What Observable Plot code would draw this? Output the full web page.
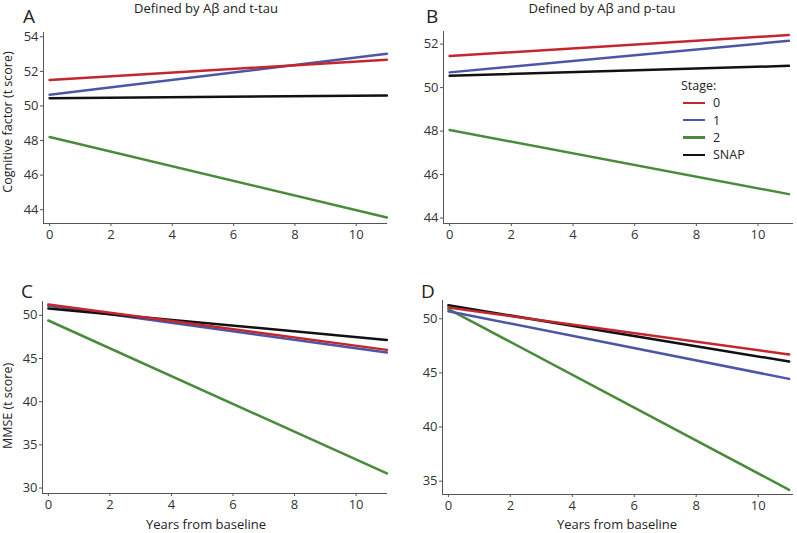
<!DOCTYPE html>
<html>
<head>
<meta charset="utf-8">
<script src="https://cdn.jsdelivr.net/npm/d3@7"></script>
<script src="https://cdn.jsdelivr.net/npm/@observablehq/plot@0.6"></script>
<style>
  html, body { margin: 0; padding: 0; background: #fff; }
  #fig { position: relative; width: 797px; height: 533px; font-family: "Open Sans", sans-serif; color: #222; overflow: hidden; }
  .pnl { position: absolute; }
  .txt { position: absolute; white-space: nowrap; line-height: 1; }
  .title { font-size: 13px; transform: translate(-50%, -50%); }
  .letter { font-size: 19px; transform: translate(0, -50%); }
  .ylab { font-size: 12.5px; transform: translate(-50%, -50%) rotate(-90deg); }
  .xlab { font-size: 13px; transform: translate(-50%, -50%); }
  .leg { position: absolute; left: 681px; top: 77px; font-size: 12.5px; }
  .leg .row { display: flex; align-items: center; height: 17.3px; }
  .leg .sw { width: 22px; height: 2.5px; margin-left: 2px; margin-right: 8px; }
</style>
</head>
<body>
<div id="fig"></div>
<script>
// ---- data ----
const years = [0, 11];
const stages = ["0", "1", "2", "SNAP"];
const stageColors = ["#c4262e", "#4b57a6", "#4a8b3b", "#111111"];
const xTicks = [0, 2, 4, 6, 8, 10];

// Panel A: Cognitive factor, defined by Aβ and t-tau (values at year 0 and year 11, per stage)
const panelAStart = [51.5, 50.65, 48.2, 50.45];
const panelAEnd   = [52.68, 53.02, 43.55, 50.6];
const panelATicks = [44, 46, 48, 50, 52, 54];

// Panel B: Cognitive factor, defined by Aβ and p-tau
const panelBStart = [51.45, 50.7, 48.05, 50.55];
const panelBEnd   = [52.42, 52.15, 45.1, 51.0];
const panelBTicks = [44, 46, 48, 50, 52];

// Panel C: MMSE, defined by Aβ and t-tau
const panelCStart = [51.25, 51.1, 49.4, 50.8];
const panelCEnd   = [46.0, 45.7, 31.7, 47.15];
const panelCTicks = [30, 35, 40, 45, 50];

// Panel D: MMSE, defined by Aβ and p-tau
const panelDStart = [51.05, 50.7, 50.9, 51.25];
const panelDEnd   = [46.7, 44.45, 34.2, 46.05];
const panelDTicks = [35, 40, 45, 50];

const drawOrder = ["2", "1", "SNAP", "0"];

function rows(startVals, endVals) {
  const out = [];
  for (const s of drawOrder) {
    const i = stages.indexOf(s);
    out.push({stage: s, year: years[0], value: startVals[i]});
    out.push({stage: s, year: years[1], value: endVals[i]});
  }
  return out;
}

function panel(o) {
  const data = rows(o.start, o.end);
  return Plot.plot({
    width: o.width, height: o.height,
    marginLeft: o.ml, marginRight: o.mr, marginTop: o.mt, marginBottom: o.mb,
    x: {domain: o.xDomain},
    y: {domain: o.yDomain},
    color: {domain: stages, range: stageColors},
    style: {fontFamily: "Open Sans, sans-serif", fontSize: "13px", color: "#333", background: "transparent"},
    marks: [
      Plot.ruleX([o.xDomain[0]], {stroke: "#555", strokeWidth: 1}),
      Plot.ruleY([o.yDomain[0]], {stroke: "#555", strokeWidth: 1}),
      Plot.axisX({ticks: xTicks, tickSize: 3, tickPadding: 3, label: null, stroke: "#555", fill: "#333"}),
      Plot.axisY({ticks: o.yTicks, tickSize: 3, tickPadding: 2, label: null, stroke: "#555", fill: "#333"}),
      Plot.line(data, {x: "year", y: "value", z: "stage", stroke: "stage", strokeWidth: 2.5})
    ]
  });
}

const fig = document.getElementById("fig");
function place(node, left, top) {
  node.classList.add("pnl");
  node.style.left = left + "px";
  node.style.top = top + "px";
  fig.appendChild(node);
}

place(panel({start: panelAStart, end: panelAEnd, width: 400, height: 265, ml: 43, mr: 13, mt: 32, mb: 42,
  xDomain: [-0.2, 11.02], yDomain: [43.2, 54.25], yTicks: panelATicks}), 0, 0);
place(panel({start: panelBStart, end: panelBEnd, width: 397, height: 265, ml: 43, mr: 4, mt: 31, mb: 42,
  xDomain: [-0.2, 11.15], yDomain: [43.75, 52.58], yTicks: panelBTicks}), 400, 0);
place(panel({start: panelCStart, end: panelCEnd, width: 400, height: 268, ml: 42, mr: 13, mt: 36, mb: 40,
  xDomain: [-0.19, 11.02], yDomain: [29.37, 51.6], yTicks: panelCTicks}), 0, 265);
place(panel({start: panelDStart, end: panelDEnd, width: 397, height: 268, ml: 42, mr: 4, mt: 35, mb: 39,
  xDomain: [-0.19, 11.14], yDomain: [33.77, 51.69], yTicks: panelDTicks}), 400, 265);

function label(text, cls, x, y) {
  const d = document.createElement("div");
  d.className = "txt " + cls;
  d.textContent = text;
  d.style.left = x + "px";
  d.style.top = y + "px";
  fig.appendChild(d);
}
label("Defined by Aβ and t-tau", "title", 206, 8);
label("Defined by Aβ and p-tau", "title", 602, 8);
label("A", "letter", 23, 16);
label("B", "letter", 426, 16);
label("C", "letter", 21, 291);
label("D", "letter", 421, 291);
label("Cognitive factor (t score)", "ylab", 8, 122);
label("MMSE (t score)", "ylab", 8, 406);
label("Years from baseline", "xlab", 206, 524);
label("Years from baseline", "xlab", 617, 524);

// legend
const leg = document.createElement("div");
leg.className = "leg";
const head = document.createElement("div");
head.className = "row";
head.textContent = "Stage:";
leg.appendChild(head);
stages.forEach((s, i) => {
  const r = document.createElement("div");
  r.className = "row";
  const sw = document.createElement("span");
  sw.className = "sw";
  sw.style.background = stageColors[i];
  const t = document.createElement("span");
  t.textContent = s;
  r.appendChild(sw);
  r.appendChild(t);
  leg.appendChild(r);
});
fig.appendChild(leg);
</script>
</body>
</html>
